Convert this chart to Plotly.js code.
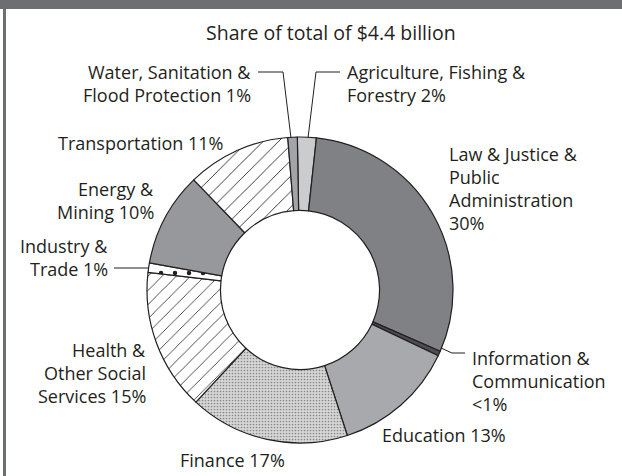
<!DOCTYPE html>
<html>
<head>
<meta charset="utf-8">
<script src="https://cdn.plot.ly/plotly-3.0.1.min.js"></script>
<style>html,body{margin:0;padding:0;background:#fff;}#chart{width:622px;height:476px;}</style>
</head>
<body>
<div id="chart"></div>
<script>
// ---- data ----
const categories = [
  "Agriculture, Fishing & Forestry",
  "Law & Justice & Public Administration",
  "Information & Communication",
  "Education",
  "Finance",
  "Health & Other Social Services",
  "Industry & Trade",
  "Energy & Mining",
  "Transportation",
  "Water, Sanitation & Flood Protection"
];
const shares = [2, 30, 0.5, 13, 17, 15, 1, 10, 11, 1];
const labelLines = [
  ["Agriculture, Fishing &", "Forestry 2%"],
  ["Law & Justice &", "Public", "Administration", "30%"],
  ["Information &", "Communication", "&lt;1%"],
  ["Education 13%"],
  ["Finance 17%"],
  ["Health &", "Other Social", "Services 15%"],
  ["Industry &", "Trade 1%"],
  ["Energy &", "Mining 10%"],
  ["Transportation 11%"],
  ["Water, Sanitation &", "Flood Protection 1%"]
];
const titleText = "Share of total of $4.4 billion";

// ---- styling ----
const W = 622, H = 476;
const sliceColors = ["#cbcccd", "#808184", "#4d4d4f", "#a7a9ac", "#d6d6d6", "#ffffff", "#ffffff", "#97989b", "#ffffff", "#a2a4a7"];
const patShapes  = ["", "", "", "", ".", "/", ".", "", "/", ""];
const patFg      = ["#000", "#000", "#000", "#000", "#8a8a8a", "#231f20", "#231f20", "#000", "#231f20", "#000"];
const patSize    = [8, 8, 8, 8, 3, 10, 14, 8, 11, 8];
const patSolid   = [0.3, 0.3, 0.3, 0.3, 0.25, 0.08, 0.08, 0.3, 0.08, 0.3];
// label placement (pixels): x, first-line y, anchor
const labelPos = [
  [345, 72, "left"],
  [447, 154, "left"],
  [470, 358, "left"],
  [380, 435, "left"],
  [232, 460, "center"],
  [148, 350, "right"],
  [110, 246, "right"],
  [156, 189, "right"],
  [225, 143, "right"],
  [253, 72, "right"]
];
const leaders = [
  [[340, 72], [316, 72], [308, 138]],
  null,
  [[441, 348], [452, 353], [465, 353]],
  null, null, null,
  [[114, 268], [148, 268]],
  null, null,
  [[258, 72], [283, 72], [291, 138]]
];
const lineH = 23;
const px = v => v / W, py = v => 1 - v / H;
const textColor = "#231f20";
const fontFam = "'Open Sans', 'Noto Sans', sans-serif";

const annotations = [];
labelLines.forEach((lines, i) => {
  const [x, y, anchor] = labelPos[i];
  lines.forEach((t, k) => {
    annotations.push({
      text: t, x: px(x), y: py(y + k * lineH), xref: "paper", yref: "paper",
      xanchor: anchor, yanchor: "middle", showarrow: false,
      font: {family: fontFam, size: 18, color: textColor}
    });
  });
});
annotations.push({
  text: titleText, x: px(331), y: py(33), xref: "paper", yref: "paper",
  xanchor: "center", yanchor: "middle", showarrow: false,
  font: {family: fontFam, size: 19.5, color: textColor}
});

const shapes = [
  {type: "rect", xref: "paper", yref: "paper", x0: 0, x1: 1, y0: py(9), y1: 1,
   fillcolor: "#6d6e71", line: {width: 0}},
  {type: "rect", xref: "paper", yref: "paper", x0: px(3), x1: px(6), y0: 0, y1: 1,
   fillcolor: "#6d6e71", line: {width: 0}}
];
leaders.forEach(pts => {
  if (!pts) return;
  const d = pts.map((p, k) => (k ? "L" : "M") + px(p[0]) + "," + py(p[1])).join(" ");
  shapes.push({type: "path", xref: "paper", yref: "paper", path: d,
    line: {color: textColor, width: 1}});
});

const trace = {
  type: "pie",
  labels: categories,
  values: shares,
  sort: false,
  direction: "clockwise",
  rotation: -1,
  hole: 0.52,
  textinfo: "none",
  hoverinfo: "label+percent",
  showlegend: false,
  domain: {x: [147 / W, 453 / W], y: [1 - 443 / H, 1 - 137 / H]},
  marker: {
    colors: sliceColors,
    line: {color: textColor, width: 1.2},
    pattern: {shape: patShapes, fgcolor: patFg, bgcolor: sliceColors, size: patSize, solidity: patSolid}
  }
};

Plotly.newPlot("chart", [trace], {
  width: W, height: H,
  margin: {l: 0, r: 0, t: 0, b: 0},
  paper_bgcolor: "#ffffff",
  showlegend: false,
  annotations: annotations,
  shapes: shapes
}, {staticPlot: true});
</script>
</body>
</html>
